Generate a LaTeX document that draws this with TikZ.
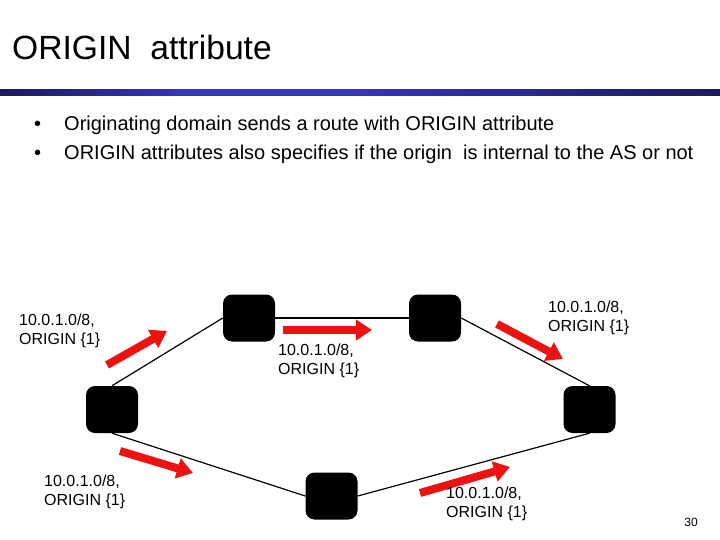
\documentclass[tikz,border=0pt]{standalone}
\usepackage{fontspec}
\setmainfont{Liberation Sans}
\usetikzlibrary{arrows.meta}
\definecolor{barleft}{HTML}{1A1A5E}
\definecolor{barmid}{HTML}{3535B8}
\definecolor{routered}{HTML}{EE1111}
\begin{document}
\begin{tikzpicture}[x=1bp, y=-1bp, line join=round,
    router/.style={fill=black, rounded corners=9bp, minimum width=52bp, minimum height=47bp, inner sep=0pt},
    link/.style={line width=1.2bp},
    push/.style={line width=8bp, color=routered, -{Triangle[length=16bp,width=20bp]}},
    route/.style={font=\fontsize{16bp}{18.5bp}\selectfont, align=left, anchor=base west, inner sep=0pt}]
    \useasboundingbox (0,0) rectangle (720,540);
    % title and bar
    \node[anchor=base west, inner sep=0pt, font=\fontsize{33.6bp}{40bp}\selectfont] (title) at (12,60) {ORIGIN\ \ attribute};
    \shade[left color=barleft, right color=barmid, middle color=barmid] (0,89.5) rectangle (360,95.5);
    \shade[left color=barmid, right color=barleft] (360,89.5) rectangle (720,95.5);
    % bullets
    \node[anchor=base west, inner sep=0pt, font=\fontsize{20bp}{24bp}\selectfont] (b1) at (34,131) {•};
    \node[anchor=base west, inner sep=0pt, font=\fontsize{20bp}{24bp}\selectfont] (t1) at (64,131) {Originating domain sends a route with ORIGIN attribute};
    \node[anchor=base west, inner sep=0pt, font=\fontsize{20bp}{24bp}\selectfont] (b2) at (34,160) {•};
    \node[anchor=base west, inner sep=0pt, font=\fontsize{20bp}{24bp}\selectfont] (t2) at (64,160) {ORIGIN attributes also specifies if the origin\ \ is internal to the AS or not};
    % routers
    \node[router] (l) at (112,409.5) {};
    \node[router] (tl) at (249,318) {};
    \node[router] (tr) at (435,318) {};
    \node[router] (r) at (589.5,409.5) {};
    \node[router] (bm) at (331.5,496) {};
    \draw[link] (l.north) -- (tl.west);
    \draw[link] (tl.east) -- (tr.west);
    \draw[link] (tr.east) -- (r.north);
    \draw[link] (l.south) -- (bm.west);
    \draw[link] (bm.east) -- (r.south);
    % announcements (anchored at the baseline of the second line)
    \draw[push] (107,365) -- (167,331);
    \draw[push] (120,451) -- (193,473);
    \draw[push] (283,330) -- (372,330);
    \draw[push] (497,324) -- (563,359);
    \draw[push] (420,493) -- (510,467);
    \node[route] (la) at (19,344) {10.0.1.0/8,\\ORIGIN \{1\}};
    \node[route] (lb) at (44,505) {10.0.1.0/8,\\ORIGIN \{1\}};
    \node[route] (lc) at (278,374) {10.0.1.0/8,\\ORIGIN \{1\}};
    \node[route] (ld) at (548,331) {10.0.1.0/8,\\ORIGIN \{1\}};
    \node[route] (le) at (446,517) {10.0.1.0/8,\\ORIGIN \{1\}};
    \node[anchor=base, inner sep=0pt, font=\fontsize{12bp}{14bp}\selectfont] (page) at (691,526) {30};
\end{tikzpicture}
\end{document}
